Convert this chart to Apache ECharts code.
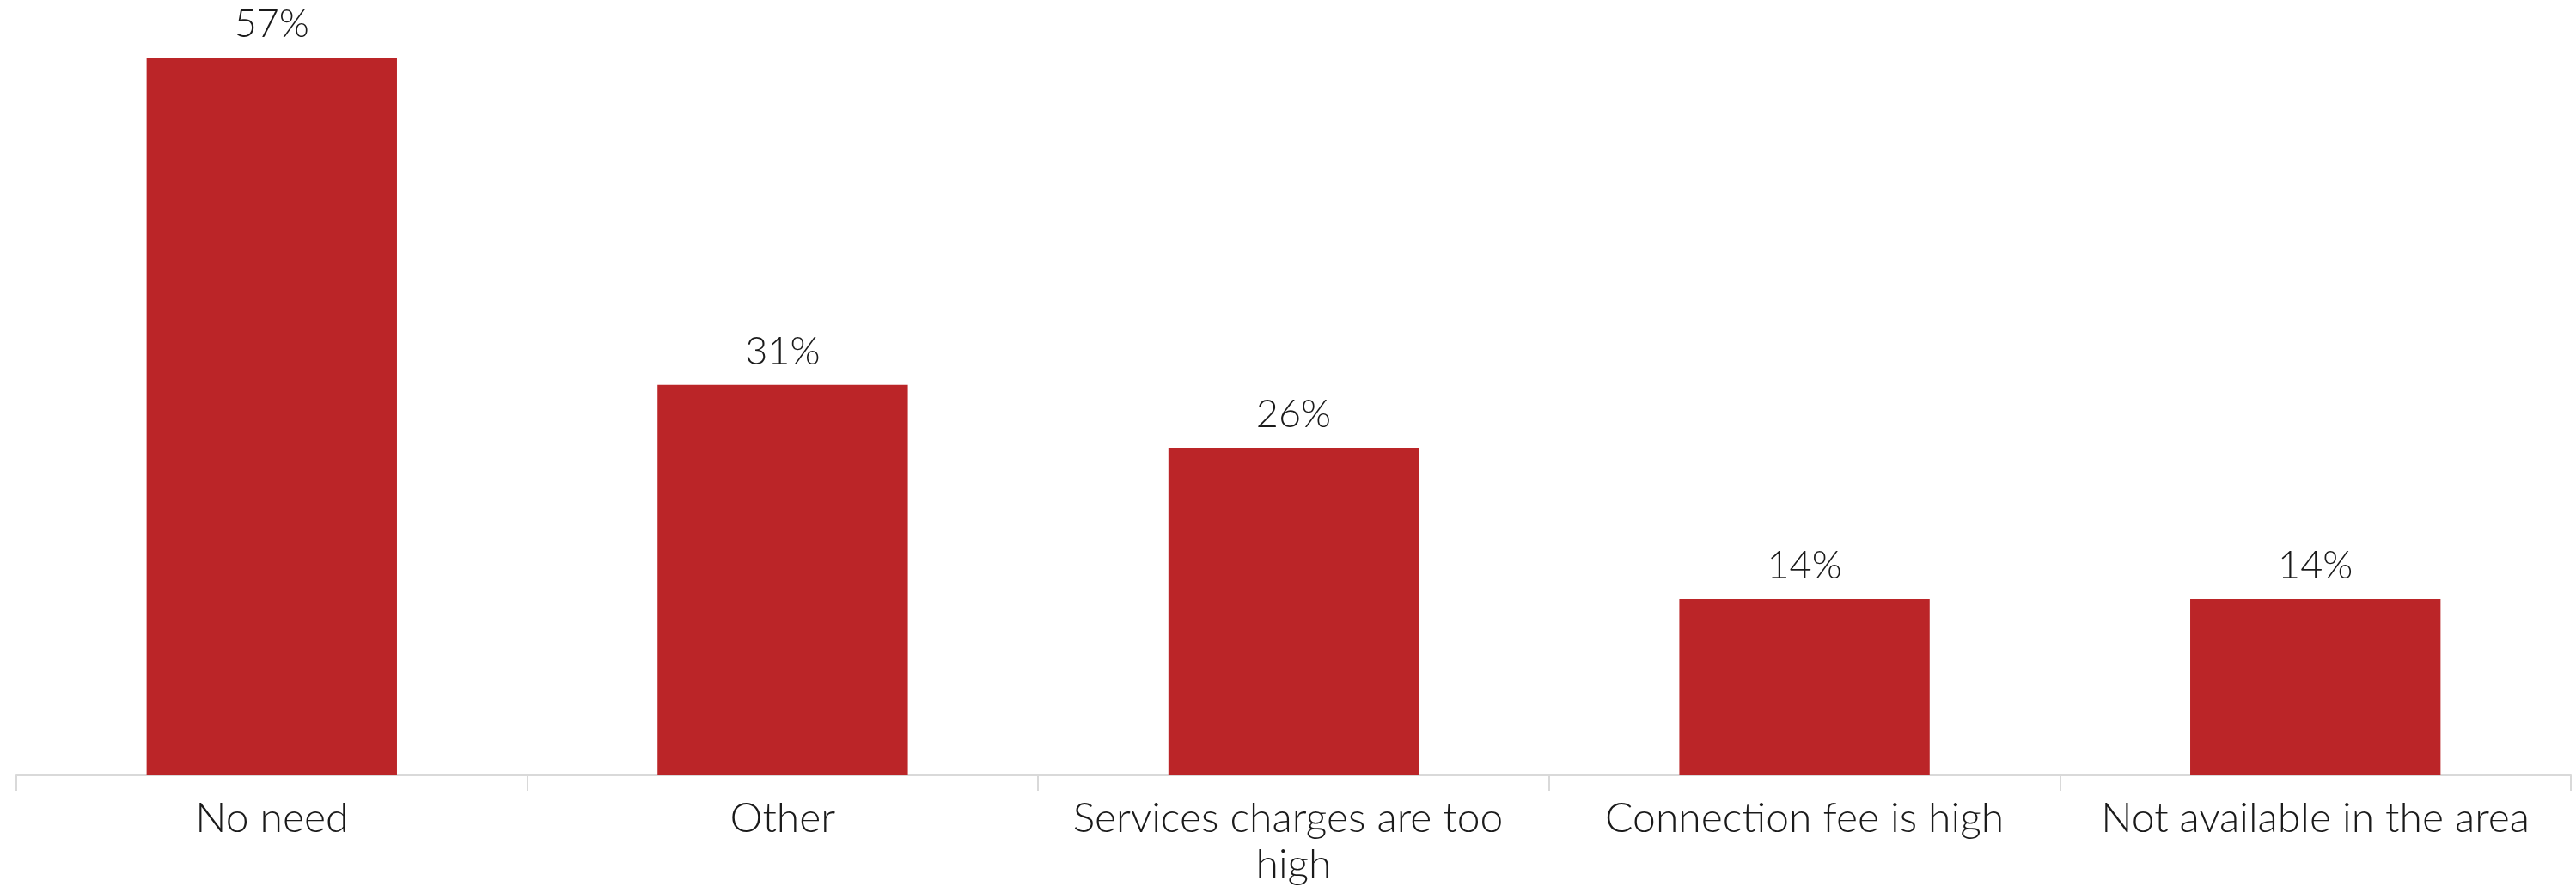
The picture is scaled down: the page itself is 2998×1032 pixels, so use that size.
<!DOCTYPE html>
<html>
<head>
<meta charset="utf-8">
<script src="https://cdn.jsdelivr.net/npm/echarts@6/dist/echarts.min.js"></script>
<style>
  html, body { margin: 0; padding: 0; background: #ffffff; }
  #chart { width: 2998px; height: 1032px; }
</style>
</head>
<body>
<div id="chart"></div>
<script>
// Reasons given, with the share of respondents for each
const categories = [
  'No need',
  'Other',
  'Services charges are too high',
  'Connection fee is high',
  'Not available in the area'
];
const shares = [57, 31, 26, 14, 14];

const FONT = 'Lato, "Open Sans", "Noto Sans", sans-serif';
const TEXT = '#1a1a1a';

const chart = echarts.init(document.getElementById('chart'));
chart.setOption({
  backgroundColor: '#ffffff',
  animation: false,
  grid: {
    left: 19,
    right: 6,
    top: 23,
    bottom: 130,
    containLabel: false,
    outerBoundsMode: 'none'
  },
  xAxis: {
    type: 'category',
    data: categories,
    axisLine: { show: true, lineStyle: { color: '#d9d9d9', width: 2 } },
    axisTick: { show: true, length: 18, lineStyle: { color: '#d9d9d9', width: 2 } },
    axisLabel: {
      interval: 0,
      margin: 24,
      color: TEXT,
      fontFamily: FONT,
      fontWeight: 300,
      fontSize: 48,
      lineHeight: 54,
      width: 540,
      overflow: 'break'
    }
  },
  yAxis: {
    type: 'value',
    min: 0,
    max: 60,
    show: false,
    splitLine: { show: false }
  },
  series: [{
    type: 'bar',
    data: shares,
    barWidth: '49%',
    itemStyle: { color: '#bb2528' },
    label: {
      show: true,
      position: 'top',
      distance: 16,
      color: TEXT,
      fontFamily: FONT,
      fontWeight: 300,
      fontSize: 45,
      formatter: p => p.value + '%'
    }
  }]
});
</script>
</body>
</html>
